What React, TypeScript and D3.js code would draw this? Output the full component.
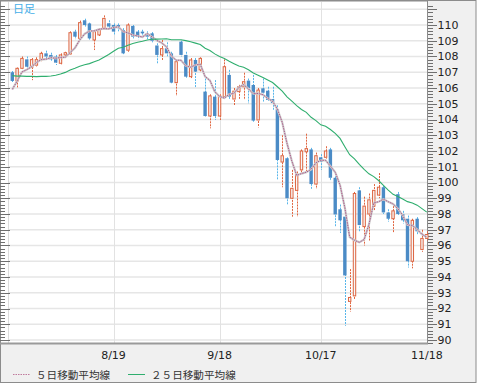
import React, { useEffect, useRef } from 'react';
import * as d3 from 'd3';

// trading days shown on the chart
const dates = [
  '7/21', '7/22', '7/23', '7/24', '7/25', '7/28', '7/29', '7/30', '7/31',
  '8/1', '8/4', '8/5', '8/6', '8/7', '8/8', '8/11', '8/12', '8/13', '8/14', '8/15',
  '8/18', '8/19', '8/20', '8/21', '8/22', '8/25', '8/26', '8/27', '8/28', '8/29',
  '9/1', '9/2', '9/3', '9/4', '9/5', '9/8', '9/9', '9/10', '9/11', '9/12',
  '9/15', '9/16', '9/17', '9/18', '9/19', '9/22', '9/23', '9/24', '9/25', '9/26', '9/29', '9/30',
  '10/1', '10/2', '10/3', '10/6', '10/7', '10/8', '10/9', '10/10', '10/13', '10/14', '10/15',
  '10/16', '10/17', '10/20', '10/21', '10/22', '10/23', '10/24', '10/27', '10/28', '10/29',
  '10/30', '10/31',
  '11/3', '11/4', '11/5', '11/6', '11/7', '11/10', '11/11', '11/12', '11/13', '11/14', '11/17', '11/18',
];

const opens = [
  107.0, 106.45, 107.25, 107.82, 107.3, 107.45, 107.8, 108.2, 108.1, 107.99,
  107.57, 108.1, 108.16, 109.58, 109.15, 110.3, 110.1, 109.05, 109.37, 109.79,
  110.11, 110.0, 110.0, 109.68, 108.4, 109.94, 109.58, 109.58, 109.47, 109.47,
  108.7, 108.1, 108.52, 108.2, 106.34, 108.94, 108.1, 106.72, 107.78, 107.15,
  105.77, 104.22, 105.45, 104.22, 105.45, 106.83, 105.3, 105.77, 106.08, 106.47,
  106.19, 103.97, 105.98, 105.83, 105.3, 104.65, 101.3, 101.54, 99.0, 99.5,
  100.8, 101.95, 102.1, 99.9, 101.6, 101.6, 102.1, 100.3, 98.3, 97.83,
  92.45, 92.8, 99.5, 97.2, 98.0, 98.5, 99.2, 99.7, 98.1, 97.7,
  99.26, 98.0, 97.7, 95.0, 97.7, 95.75, 96.45,
];
const highs = [
  107.08, 107.3, 108.0, 108.0, 107.9, 107.95, 108.3, 108.37, 108.24, 108.1,
  108.2, 108.3, 109.6, 109.7, 110.28, 110.4, 110.15, 109.65, 109.8, 110.61,
  110.3, 110.1, 110.1, 109.8, 110.1, 110.0, 109.68, 109.7, 109.6, 109.55,
  108.84, 109.05, 108.9, 108.3, 107.8, 109.0, 108.3, 107.9, 107.9, 107.95,
  106.6, 105.6, 106.5, 105.6, 107.82, 107.15, 106.0, 106.2, 106.97, 106.6,
  106.83, 106.0, 106.6, 106.08, 106.08, 104.9, 103.0, 101.6, 100.8, 100.7,
  102.1, 103.1, 102.2, 101.9, 101.8, 102.3, 102.2, 100.4, 98.6, 98.0,
  94.5, 99.4, 99.7, 99.1, 99.3, 99.9, 100.6, 99.8, 98.3, 98.5,
  99.4, 98.2, 97.9, 97.7, 97.8, 97.0, 96.9,
];
const lows = [
  106.34, 106.04, 107.2, 107.25, 106.5, 107.35, 107.7, 107.8, 107.67, 107.46,
  107.5, 108.0, 108.1, 109.1, 109.1, 109.9, 109.05, 108.41, 109.3, 109.7,
  109.8, 109.4, 109.6, 108.1, 108.3, 109.15, 109.1, 109.3, 109.1, 108.9,
  107.55, 107.78, 108.0, 106.3, 105.5, 108.0, 106.6, 106.6, 106.0, 107.0,
  104.15, 103.44, 103.97, 103.97, 105.3, 105.25, 104.9, 105.25, 105.25, 105.03,
  103.86, 103.5, 105.13, 105.13, 104.6, 100.16, 99.7, 98.57, 97.83, 97.83,
  100.6, 100.6, 99.6, 99.6, 100.8, 101.5, 100.1, 97.2, 96.8, 90.9,
  91.8, 92.6, 96.9, 96.0, 96.3, 98.2, 99.0, 98.0, 97.5, 96.8,
  97.9, 97.4, 94.6, 94.55, 96.7, 95.6, 96.3,
];
const closes = [
  106.45, 107.25, 107.88, 107.35, 107.8, 107.8, 108.2, 108.0, 107.82, 107.61,
  108.1, 108.24, 109.51, 109.26, 110.15, 110.0, 109.15, 109.58, 109.72, 110.42,
  109.9, 109.58, 109.8, 108.2, 110.0, 109.26, 109.26, 109.47, 109.26, 109.0,
  108.1, 108.5, 108.2, 106.34, 107.67, 108.1, 106.72, 107.78, 107.04, 107.88,
  104.22, 105.5, 104.22, 105.5, 107.35, 105.45, 105.8, 106.08, 106.4, 105.98,
  103.93, 105.87, 105.7, 105.24, 105.05, 101.43, 101.7, 99.0, 99.63, 100.5,
  102.0, 102.15, 99.9, 101.7, 101.3, 102.0, 100.3, 97.97, 97.6, 94.1,
  92.7, 99.3, 97.3, 98.5, 98.9, 99.5, 99.7, 98.1, 97.7, 98.2,
  98.0, 97.6, 95.0, 97.6, 96.9, 96.45, 96.7,
];
// closes before the first candle, so the averages start at the left edge
const priorCloses = [
  108.1, 107.9, 107.6, 107.9, 108.1, 107.9, 108.0, 107.2, 106.4, 106.2, 105.6, 105.6,
  106.6, 106.9, 107.6, 107.5, 106.7, 106.9, 106.1, 105.3, 104.6, 105.0, 106.6, 106.9,
];

const xTickLabels = ['8/19', '9/18', '10/17', '11/18'];
const yTickValues = [90, 91, 92, 93, 94, 95, 96, 97, 98, 99, 100, 101, 102, 103, 104, 105, 106, 107, 108, 109, 110];
const gridValues = [...yTickValues, 111];
const legendLabels = ['５日移動平均線', '２５日移動平均線'];
const chartTitle = '日足';

const W = 478;
const H = 385;
const plot = { left: 8, right: 427.5, top: 2, bottom: 343 };

function movingAverage(n: number) {
  const all = [...priorCloses, ...closes];
  const off = priorCloses.length;
  return closes.map((_, i) => d3.mean(all.slice(off + i - n + 1, off + i + 1)) as number);
}

export default function App() {
  const ref = useRef<SVGSVGElement>(null);

  useEffect(() => {
    drawChart();
  }, []);

  function drawChart() {
    const svg = d3.select(ref.current);
    svg.selectAll('*').remove();

    const x = d3.scaleBand().domain(dates).range([9.9, 429.2]);
    const y = d3.scaleLinear().domain([90, 110]).range([340, 25]);
    const bw = x.bandwidth();
    const cx = (d: string) => (x(d) as number) + bw / 2;
    const px = (v: number) => Math.round(v) + 0.5;

    // background + frame
    svg.append('rect').attr('x', 0.5).attr('y', 0.5).attr('width', 475.5).attr('height', 382)
      .attr('fill', '#f0f0f0').attr('stroke', '#8c8c8c');
    svg.append('rect').attr('x', 1).attr('y', 1).attr('width', plot.right - 1).attr('height', plot.bottom - 1)
      .attr('fill', '#fff');

    // grid
    svg.append('g').selectAll('line').data(gridValues).join('line')
      .attr('x1', plot.left).attr('x2', plot.right)
      .attr('y1', d => y(d)).attr('y2', d => y(d))
      .attr('stroke', '#e6e6e6').attr('stroke-width', 1.5);
    svg.append('g').selectAll('line').data(xTickLabels).join('line')
      .attr('x1', d => px(cx(d))).attr('x2', d => px(cx(d)))
      .attr('y1', plot.top).attr('y2', plot.bottom)
      .attr('stroke', '#e2e2e2').attr('stroke-width', 1);
    svg.append('line').attr('x1', px(plot.left)).attr('x2', px(plot.left))
      .attr('y1', plot.top).attr('y2', plot.bottom).attr('stroke', '#dcdcdc');

    // tick marks on both sides
    const minor = d3.range(0, 108).map(k => 89.8 + k * 0.2).filter(v => y(v) >= 3);
    const isMajor = (v: number) => Math.abs(v - Math.round(v)) < 0.01;
    const ticks = svg.append('g').attr('stroke', '#6f6f6f').attr('stroke-width', 1);
    ticks.selectAll('line.l').data(minor).join('line').attr('class', 'l')
      .attr('x1', 0).attr('x2', d => (isMajor(d) ? 10 : 5))
      .attr('y1', d => px(y(d))).attr('y2', d => px(y(d)));
    ticks.selectAll('line.r').data(minor).join('line').attr('class', 'r')
      .attr('x1', plot.right).attr('x2', d => (isMajor(d) ? 437 : 433))
      .attr('y1', d => px(y(d))).attr('y2', d => px(y(d)));

    svg.append('line').attr('x1', 427.5).attr('x2', 427.5).attr('y1', 1).attr('y2', 344)
      .attr('stroke', '#8c8c8c');
    svg.append('line').attr('x1', 0).attr('x2', 428).attr('y1', 343.5).attr('y2', 343.5)
      .attr('stroke', '#9a9a9a').attr('stroke-width', 2);
    svg.append('line').attr('x1', 0).attr('x2', 428).attr('y1', 1).attr('y2', 1)
      .attr('stroke', '#8c8c8c');

    // y labels
    svg.append('g').selectAll('text').data(yTickValues).join('text')
      .attr('x', 437.5).attr('y', d => y(d)).attr('dy', '0.36em')
      .attr('font-family', 'DejaVu Sans').attr('font-size', 11).attr('fill', '#222')
      .text(d => d);

    // x labels
    svg.append('g').selectAll('text').data(xTickLabels).join('text')
      .attr('x', d => cx(d)).attr('y', 359)
      .attr('text-anchor', 'middle')
      .attr('font-family', 'DejaVu Sans').attr('font-size', 11).attr('fill', '#222')
      .text(d => d);

    // candles
    const candles = dates.map((d, i) => ({ d, o: opens[i], h: highs[i], l: lows[i], c: closes[i] }));
    const g = svg.append('g');
    g.selectAll('line').data(candles).join('line')
      .attr('x1', d => px(cx(d.d))).attr('x2', d => px(cx(d.d)))
      .attr('y1', d => y(d.h)).attr('y2', d => y(d.l))
      .attr('stroke', d => (d.c >= d.o ? '#e0653f' : '#58b6ea'))
      .attr('stroke-dasharray', '2,1');
    g.selectAll('rect.up').data(candles.filter(d => d.c >= d.o)).join('rect').attr('class', 'up')
      .attr('x', d => cx(d.d) - 1.2).attr('width', 2.4)
      .attr('y', d => y(d.c)).attr('height', d => Math.max(1, y(d.o) - y(d.c)))
      .attr('fill', '#f7f7f7').attr('stroke', '#dd6440').attr('stroke-width', 1);
    g.selectAll('rect.dn').data(candles.filter(d => d.c < d.o)).join('rect').attr('class', 'dn')
      .attr('x', d => cx(d.d) - 1.7).attr('width', 3.4)
      .attr('y', d => y(d.o)).attr('height', d => Math.max(1, y(d.c) - y(d.o)))
      .attr('fill', '#4b8bc6');

    // moving averages
    const ma5 = movingAverage(5);
    const ma25 = movingAverage(25);
    const line = d3.line<number>().x((_, i) => cx(dates[i])).y(v => y(v));
    svg.append('path').attr('d', line(ma5)).attr('fill', 'none')
      .attr('stroke', '#cdcdcd').attr('stroke-width', 2.2);
    svg.append('path').attr('d', line(ma5)).attr('fill', 'none')
      .attr('stroke', '#b0568a').attr('stroke-width', 1).attr('stroke-dasharray', '1.5,1');
    svg.append('path').attr('d', line(ma25)).attr('fill', 'none')
      .attr('stroke', '#2fae6e').attr('stroke-width', 1.1);

    // title
    svg.append('text').attr('x', 13).attr('y', 13)
      .attr('font-family', 'Noto Sans CJK JP').attr('font-size', 11).attr('fill', '#45aee8')
      .text(chartTitle);

    // legend
    const legendX = [13, 128];
    const legendColors = ['#c07a9c', '#2fae6e'];
    const lg = svg.append('g');
    legendLabels.forEach((t, i) => {
      lg.append('line').attr('x1', legendX[i]).attr('x2', legendX[i] + 17)
        .attr('y1', 374.5).attr('y2', 374.5).attr('stroke', legendColors[i])
        .attr('stroke-dasharray', i === 0 ? '1.5,1' : null);
      lg.append('text').attr('x', legendX[i] + 23).attr('y', 378.5)
        .attr('font-family', 'Noto Sans CJK JP').attr('font-size', 10.6).attr('fill', '#333')
        .text(t);
    });
  }

  return (
    <div style={{ position: 'absolute', left: 0, top: 0 }}>
      <svg ref={ref} width={W} height={H} />
    </div>
  );
}
